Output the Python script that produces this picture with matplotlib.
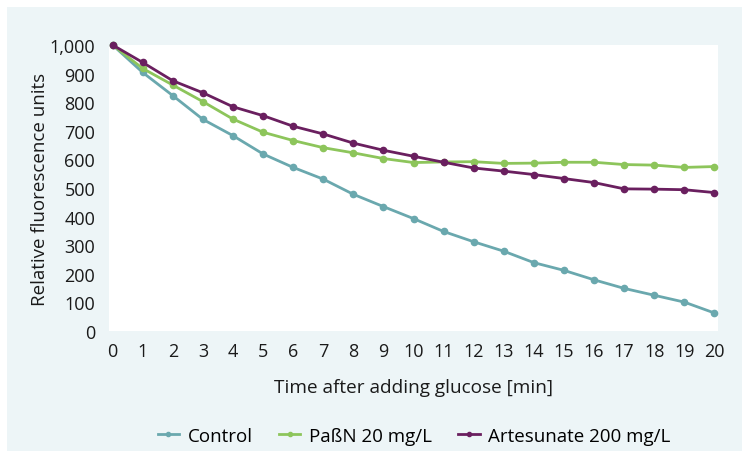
import matplotlib
matplotlib.use("Agg")
import matplotlib.pyplot as plt
from matplotlib.patches import Rectangle
from matplotlib.ticker import FuncFormatter

plt.rcParams['font.family'] = ['Open Sans', 'DejaVu Sans']

minutes = list(range(21))
control = [1000, 904, 823, 740, 683, 619, 572, 531, 478, 435, 393, 348, 312, 279, 239, 212, 179, 149, 125, 101, 63]
passn = [1000, 918, 860, 802, 741, 695, 666, 641, 623, 603, 589, 591, 592, 586, 587, 590, 590, 582, 580, 572, 575]
artesunate = [1000, 939, 875, 833, 784, 753, 716, 689, 657, 632, 611, 590, 570, 559, 547, 533, 519, 497, 496, 494, 484]
series_names = ["Control", "PaßN 20 mg/L", "Artesunate 200 mg/L"]
colors = ["#6aa8ae", "#8dc55b", "#6a1f5f"]

W, H = 742, 452
fig = plt.figure(figsize=(W/100, H/100), dpi=100, facecolor="white")
bg = "#edf5f7"
fig.patches.append(Rectangle((7/W, 0), 1 - 7/W, (H-8)/H, transform=fig.transFigure,
                             facecolor=bg, edgecolor="none", zorder=-10))

ax = fig.add_axes([109/W, (H-332)/H, (718-109)/W, (332-46)/H])
ax.set_facecolor("white")
for name, vals, c in zip(series_names, [control, passn, artesunate], colors):
    ax.plot(minutes, vals, color=c, lw=2.0, marker="o", ms=4.5, label=name, clip_on=False)

ax.set_xlim(-0.12, 20.12)
ax.set_ylim(0, 1000)
ax.set_xticks(minutes)
ax.set_yticks(range(0, 1001, 100))
ax.yaxis.set_major_formatter(FuncFormatter(lambda v, p: f"{int(v):,}"))
for s in ax.spines.values():
    s.set_visible(False)
ax.tick_params(length=0, labelsize=13, colors="#1a1a1a")
ax.tick_params(axis="y", pad=10)
ax.tick_params(axis="x", pad=8)
ax.set_xlabel("Time after adding glucose [min]", fontsize=13.7, labelpad=13, color="#1a1a1a")
ax.set_ylabel("Relative fluorescence units", fontsize=13.5, labelpad=0, color="#1a1a1a")

leg = fig.legend(loc="center", bbox_to_anchor=(414/W, (H-437)/H), ncol=3, frameon=False,
                 fontsize=13.5, handlelength=1.15, columnspacing=1.4, handletextpad=0.45)
for h in leg.legend_handles:
    h.set_markersize(3)
fig.savefig("out.png", dpi=100, facecolor="white")
